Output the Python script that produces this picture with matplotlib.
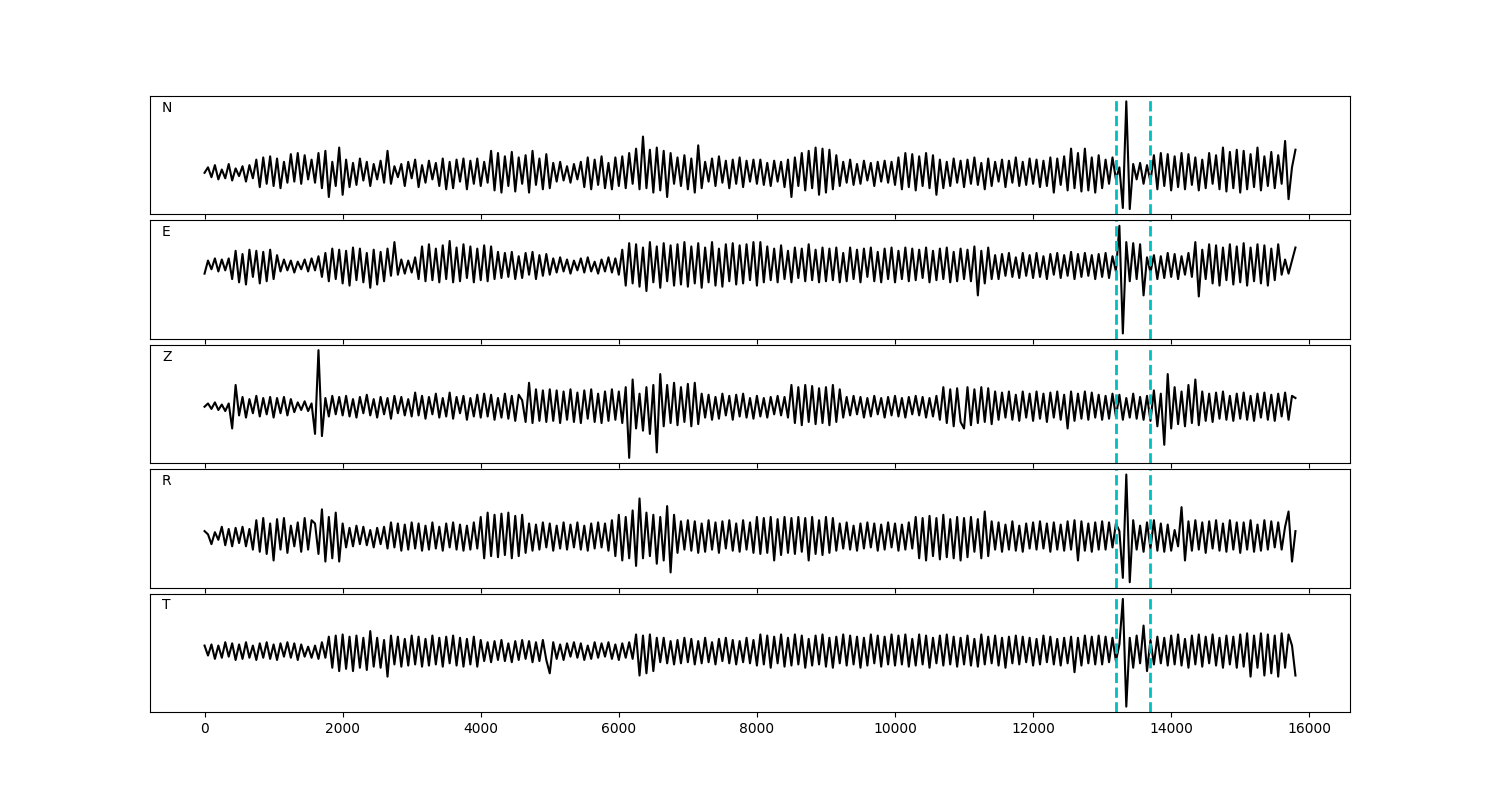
import numpy as np
import matplotlib
matplotlib.use('Agg')
import matplotlib.pyplot as plt

# sample spacing of the traces and the two picked times
step = 50
picks = [13200, 13700]
comps = ['N', 'E', 'Z', 'R', 'T']

# amplitudes, one value every 50 samples (0..15800)
trace_n = [
    0, 5, -4, 7, -6, 3, -5, 8, -7, 4, -3, 6, -8, 7, -5, 12, -13, 14, -10, 15,
    -12, 13, -14, 10, -9, 17, -8, 18, -10, 16, -6, 12, -9, 18, -14, 20, -22, 10, -12, 23,
    -20, 12, -13, 9, -11, 13, -7, 10, -12, 8, -6, 11, -9, 20, -10, 6, -4, 8, -12, 10,
    -5, 12, -13, 7, -9, 11, -6, 9, -12, 13, -15, 10, -14, 12, -8, 13, -15, 11, -10, 13,
    -12, 10, -9, 20, -16, 18, -18, 15, -12, 19, -17, 14, -10, 16, -18, 20, -11, 13, -15, 17,
    -14, 9, -8, 10, -7, 6, -9, 8, -6, 10, -13, 14, -15, 12, -11, 15, -14, 9, -15, 14,
    -12, 15, -14, 18, -10, 22, -15, 33, -14, 21, -18, 23, -16, 20, -22, 18, -10, 14, -12, 16,
    -15, 13, -18, 25, -14, 10, -8, 13, -12, 15, -9, 11, -14, 12, -10, 14, -13, 11, -8, 12,
    -10, 12, -11, 9, -12, 11, -8, 10, -13, 12, -22, 14, -12, 18, -16, 20, -14, 23, -20, 22,
    -18, 21, -15, 16, -12, 10, -9, 12, -11, 8, -10, 11, -7, 9, -12, 10, -8, 11, -9, 10,
    -11, 14, -15, 18, -13, 17, -16, 15, -12, 18, -14, 16, -20, 12, -14, 10, -12, 13, -9, 11,
    -13, 12, -10, 14, -11, 9, -15, 13, -12, 10, -8, 12, -13, 11, -9, 14, -12, 10, -11, 13,
    -10, 12, -13, 11, -12, 14, -18, 13, -11, 15, -16, 22, -14, 18, -17, 22, -16, 14, -18, 16,
    -14, 12, -10, 14, -6, 5, -32, 65, -33, 8, -6, 9, -10, 7, -8, 16, -15, 18, -12, 17,
    -16, 15, -13, 18, -15, 17, -11, 14, -16, 12, -14, 18, -10, 16, -15, 23, -17, 19, -14, 21,
    -18, 20, -15, 17, -13, 23, -16, 15, -12, 19, -14, 16, -10, 29, -24, 5, 21,
]

trace_e = [
    -7, 5, -3, 7, -5, 6, -4, 7, -12, 14, -15, 11, -17, 15, -10, 14, -16, 13, -14, 15,
    -12, 10, -5, 6, -4, 5, -6, 4, -3, 6, -5, 7, -4, 9, -10, 12, -14, 16, -12, 15,
    -16, 14, -18, 17, -13, 16, -15, 12, -20, 15, -17, 13, -14, 16, -9, 22, -8, 6, -7, 5,
    -6, 8, -12, 18, -14, 20, -13, 16, -15, 19, -12, 23, -15, 17, -14, 20, -11, 18, -15, 16,
    -13, 19, -14, 18, -12, 13, -11, 12, -10, 13, -12, 9, -11, 12, -8, 13, -12, 10, -9, 11,
    -8, 7, -6, 8, -5, 6, -7, 5, -4, 7, -6, 8, -5, 4, -7, 6, -5, 8, -6, 7,
    -8, 15, -18, 21, -16, 20, -19, 17, -23, 22, -15, 18, -20, 21, -14, 19, -18, 20, -17, 22,
    -19, 18, -16, 21, -20, 17, -15, 22, -18, 16, -19, 20, -14, 21, -17, 19, -16, 20, -13, 22,
    -18, 22, -15, 18, -13, 16, -15, 19, -12, 14, -15, 17, -11, 16, -14, 20, -13, 15, -15, 17,
    -14, 16, -13, 17, -15, 12, -14, 17, -12, 15, -15, 16, -10, 17, -14, 13, -15, 16, -12, 17,
    -15, 14, -12, 17, -14, 16, -13, 15, -11, 17, -15, 14, -13, 16, -12, 17, -15, 13, -14, 16,
    -12, 15, -14, 18, -27, 14, -16, 17, -12, 10, -12, 11, -9, 12, -10, 8, -11, 12, -9, 10,
    -11, 12, -10, 9, -12, 11, -8, 12, -11, 10, -9, 13, -12, 11, -10, 12, -9, 10, -12, 11,
    -10, 12, -11, 9, -5, 37, -62, 22, -14, 21, -12, 20, -27, 8, -6, 10, -12, 9, -11, 12,
    -10, 11, -12, 9, -8, 12, -10, 22, -28, 15, -12, 20, -16, 19, -18, 17, -13, 20, -17, 18,
    -15, 21, -18, 17, -14, 20, -16, 19, -18, 16, -13, 20, -8, 6, -7, 5, 17,
]

trace_z = [
    0, 3, -2, 4, -3, 2, -4, 3, -20, 20, -8, 9, -10, 7, -6, 10, -9, 8, -7, 9,
    -10, 8, -6, 9, -8, 7, -5, 4, -3, 5, -4, 3, -25, 52, -27, 8, -9, 10, -7, 9,
    -8, 10, -9, 7, -10, 9, -6, 11, -8, 7, -10, 9, -7, 8, -11, 10, -6, 9, -8, 7,
    -9, 13, -8, 10, -11, 9, -7, 12, -10, 8, -9, 13, -11, 9, -6, 10, -12, 8, -9, 11,
    -10, 12, -9, 11, -12, 8, -10, 12, -11, 10, -13, 11, 6, -14, 22, -15, 16, -13, 15, -14,
    16, -13, 15, -15, 14, -12, 16, -14, 13, -15, 15, -11, 16, -14, 12, -15, 14, -13, 16, -12,
    14, -15, 18, -47, 25, -20, 12, -22, 18, -25, 20, -42, 30, -18, 20, -15, 22, -17, 18, -14,
    21, -18, 22, -16, 12, -10, 11, -12, 9, -11, 12, -8, 10, -12, 11, -9, 12, -10, 8, -11,
    10, -9, 8, -10, 9, -7, 10, -8, 9, -10, 20, -15, 18, -17, 20, -14, 19, -16, 17, -15,
    18, -17, 20, -14, 16, -10, 9, -8, 10, -7, 9, -10, 8, -9, 10, -7, 8, -10, 9, -8,
    10, -9, 8, -10, 9, -7, 10, -8, 9, -10, 8, -9, 10, -12, 18, -15, 16, -18, 17, -14,
    -20, 18, -17, 16, -15, 18, -14, 17, -16, 14, -12, 13, -10, 14, -12, 11, -13, 14, -10, 12,
    -13, 14, -11, 12, -14, 13, -10, 14, -12, 11, -20, 14, -13, 12, -11, 14, -12, 13, -10, 11,
    -12, 10, -11, 12, -9, 11, -12, 8, -10, 12, -11, 9, -12, 10, -13, 15, -18, 12, -35, 30,
    -20, 18, -16, 14, -18, 20, -15, 25, -17, 14, -13, 12, -14, 13, -11, 14, -12, 10, -13, 12,
    -11, 13, -12, 10, -13, 12, -10, 13, -12, 11, -13, 12, -9, 13, -12, 10, 8,
]

trace_r = [
    5, 2, -7, 4, -3, 9, -8, 7, -9, 8, -6, 9, -9, 7, -12, 15, -14, 17, -16, 12,
    -22, 16, -12, 17, -15, 10, -9, 13, -14, 17, -12, 15, 12, -16, 25, -23, 18, -20, 22, -23,
    12, -10, 8, -9, 10, -7, 9, -8, 6, -10, 8, -7, 9, -11, 13, -10, 12, -13, 11, -12,
    13, -11, 12, -13, 10, -12, 13, -11, 9, -13, 12, -10, 13, -12, 11, -13, 10, -12, 13, -11,
    18, -20, 22, -18, 20, -19, 21, -17, 22, -20, 19, -18, 20, -15, 12, -13, 11, -12, 13, -10,
    12, -13, 10, -11, 13, -12, 11, -10, 13, -12, 10, -13, 12, -11, 13, -10, 12, -13, 15, -18,
    20, -22, 18, -20, 24, -27, 35, -20, 22, -18, 20, -25, 18, -22, 28, -33, 20, -15, 14, -12,
    15, -13, 14, -15, 12, -14, 15, -12, 13, -15, 14, -11, 15, -13, 12, -14, 15, -12, 13, -15,
    18, -16, 17, -15, 18, -22, 16, -17, 18, -15, 17, -16, 18, -14, 17, -22, 18, -16, 15, -17,
    18, -15, 17, -13, 12, -11, 13, -12, 10, -13, 12, -11, 13, -10, 12, -13, 11, -12, 13, -10,
    12, -13, 11, -12, 13, -11, 18, -20, 17, -22, 19, -18, 17, -21, 20, -19, 16, -20, 18, -22,
    17, -19, 18, -14, 16, -20, 23, -18, 14, -12, 13, -14, 11, -12, 14, -13, 10, -14, 12, -11,
    13, -12, 14, -11, 12, -14, 13, -12, 11, -13, 14, -12, 15, -22, 14, -13, 12, -14, 13, -12,
    14, -12, 13, -10, 12, 5, -38, 57, -42, 15, -12, 10, -14, 13, -11, 15, -13, 12, -14, 11,
    -13, 6, -9, 27, -22, 14, -13, 15, -12, 13, -15, 14, -11, 15, -13, 12, -14, 15, -12, 13,
    -15, 13, -12, 15, -14, 11, -13, 15, -12, 14, -10, 13, -12, 9, 23, -23, 5,
]

trace_t = [
    5, -4, 6, -7, 5, -6, 8, -5, 7, -8, 6, -7, 8, -6, 5, -8, 7, -6, 8, -7,
    6, -8, 7, -5, 8, -6, 7, -8, 6, -5, 4, -6, 5, -7, 8, -6, 13, -15, 14, -18,
    15, -16, 13, -18, 14, -15, 12, -17, 18, -14, 12, -15, 10, -23, 14, -12, 13, -14, 11, -13,
    14, -12, 13, -14, 11, -13, 14, -12, 12, -14, 13, -11, 14, -13, 12, -14, 11, -12, 13, -14,
    10, -9, 8, -10, 9, -8, 10, -9, 7, -10, 9, -8, 10, -7, 9, -10, 8, -9, 10, -8,
    -20, 8, -7, 6, -8, 7, -5, 8, -6, 7, -8, 5, -7, 8, -6, 7, -5, 8, -7, 6,
    -8, 7, -6, 8, -7, 15, -22, 14, -20, 15, -18, 12, -10, 12, -11, 9, -12, 10, -11, 12,
    -10, 11, -12, 9, -11, 12, -10, 8, -12, 11, -9, 12, -11, 10, -12, 9, -10, 12, -11, 10,
    -13, 15, -12, 14, -15, 13, -11, 15, -14, 12, -13, 15, -12, 14, -15, 11, -13, 14, -12, 15,
    -14, 12, -15, 13, -11, 15, -13, 14, -12, 13, -15, 12, -13, 15, -11, 14, -14, 13, -12, 15,
    -13, 14, -12, 15, -14, 11, -13, 15, -12, 14, -15, 12, -11, 14, -13, 15, -12, 13, -14, 12,
    -12, 14, -13, 11, -14, 15, -12, 13, -11, 14, -13, 12, -15, 13, -11, 14, -12, 13, -10, 12,
    -13, 11, -12, 14, -10, 13, -12, 11, -13, 12, -11, 13, -19, 12, -13, 14, -11, 13, -12, 14,
    -12, 13, -10, 12, -9, 6, 47, -50, 12, -15, 14, -11, 23, -18, 10, -12, 13, -11, 12, -13,
    14, -12, 15, -13, 11, -15, 14, -12, 15, -14, 13, -11, 15, -13, 12, -15, 14, -12, 13, -15,
    15, -14, 16, -23, 14, -15, 16, -22, 15, -20, 14, -23, 16, -15, 15, 5, -22,
]

traces = [trace_n, trace_e, trace_z, trace_r, trace_t]
for tr in traces:
    assert len(tr) == 317, len(tr)

fig, axes = plt.subplots(5, 1, figsize=(15, 8), sharex=True)
fig.subplots_adjust(left=0.1, right=0.9, top=0.88, bottom=0.11, hspace=0.05)

for ax, name, tr in zip(axes, comps, traces):
    t = np.arange(len(tr)) * step
    ax.plot(t, tr, color='k', lw=1.5)
    for p in picks:
        ax.axvline(p, color='c', ls='--', lw=2)
    ax.text(0.01, 0.9, name, transform=ax.transAxes, va='center')
    ax.set_yticks([])

plt.savefig('out.png', dpi=100)
